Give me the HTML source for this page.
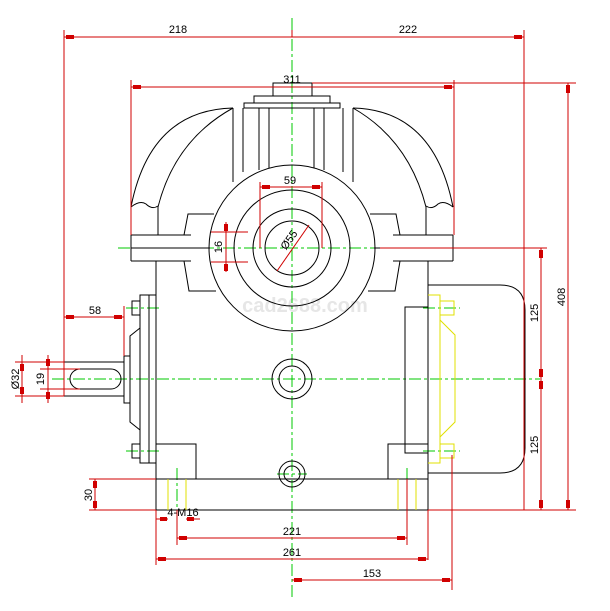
<!DOCTYPE html>
<html><head><meta charset="utf-8"><style>html,body{margin:0;padding:0;background:#fff}svg{display:block}</style></head>
<body>
<svg width="610" height="611" viewBox="0 0 610 611" xmlns="http://www.w3.org/2000/svg" font-family="Liberation Sans, sans-serif">
<rect width="610" height="611" fill="#fff"/>
<text x="305" y="312" font-size="20" font-weight="bold" fill="#e6e6e6" text-anchor="middle">cad2688.com</text>
<!-- green center lines -->
<g stroke="#00c800" stroke-width="1" stroke-dasharray="12,3,3,3" fill="none">
<line x1="292" y1="18" x2="292" y2="598"/>
<line x1="118" y1="248" x2="476" y2="248"/>
<line x1="52" y1="379" x2="540" y2="379"/>
<line x1="126" y1="308" x2="162" y2="308"/><line x1="126" y1="451" x2="162" y2="451"/>
<line x1="423" y1="308" x2="460" y2="308"/><line x1="423" y1="451" x2="460" y2="451"/>
<line x1="277" y1="474" x2="307" y2="474"/>
<line x1="177" y1="468" x2="177" y2="520"/><line x1="407" y1="468" x2="407" y2="520"/>
</g>
<!-- black geometry -->
<g stroke="#000" stroke-width="1" fill="none">
<rect x="273" y="83" width="39" height="13"/>
<rect x="254" y="96" width="76" height="7"/>
<rect x="244" y="103" width="96" height="5"/>
<path d="M233 108V182M243 108V172M259 108V170M269 108V168M314 108V168M324 108V170M343 108V172M353 108V182"/>
<path d="M131 207 Q150 110 233 108 M158 207 Q175 140 233 108"/>
<path d="M453 207 Q434 110 353 108 M426 207 Q409 140 353 108"/>
<path d="M131 207 Q140 200 146 204 Q152 210 158 206 M453 207 Q444 200 438 204 Q432 210 426 206"/>
<path d="M158 207V235M426 207V235"/>
<path d="M131 235H191M131 261H191M131 235V261M131 248H210"/>
<path d="M453 235H393M453 261H393M453 235V261M453 248H374"/>
<path d="M214 214H188L184 235M184 261L189 291H216"/>
<path d="M370 214H396L400 235M400 261L395 291H368"/>
<circle cx="292" cy="248" r="83"/>
<circle cx="292" cy="248" r="58"/>
<circle cx="292" cy="248" r="39"/>
<circle cx="292" cy="248" r="27"/>
<path d="M156 261V510H428V261"/>
<path d="M156 479H428"/>
<path d="M156 444H196V479M428 444H388V479"/>
<rect x="405" y="307" width="23" height="146"/>
<circle cx="292" cy="379" r="20"/><circle cx="292" cy="379" r="13"/>
<circle cx="292" cy="474" r="13"/><circle cx="292" cy="474" r="8"/>
<rect x="140" y="295" width="16" height="168"/>
<line x1="149" y1="295" x2="149" y2="463"/>
<rect x="132" y="301" width="8" height="14"/><rect x="132" y="444" width="8" height="14"/>
<path d="M140 328L130 336V422L140 430"/>
<rect x="124" y="356" width="6" height="47"/>
<rect x="64" y="362" width="60" height="34"/>
<path d="M80 369H111A10 10 0 0 1 111 389H80A10 10 0 0 1 80 369Z"/>
<path d="M428 285H500Q525 285 525 310V448Q525 473 500 473H428"/>
</g>
<!-- yellow -->
<g stroke="#e0e000" stroke-width="1" fill="none">
<path d="M428 295H440V463H428M440 295V463M440 320L455 335V422L440 437"/>
<rect x="440" y="301" width="14" height="14"/><rect x="440" y="444" width="14" height="14"/>
<path d="M168 479V510M186 479V510M398 479V510M416 479V510"/>
</g>
<!-- red dims -->
<g stroke="#d00000" stroke-width="1" fill="none">
<path d="M64 30V396M524 30V510M292 30V37M64 37H524"/>
<path d="M131 80V235M454 80V235M131 87H454"/>
<path d="M312 83H576M568 83V510M428 510H576"/>
<path d="M380 248H547M541 248V510"/>
<path d="M260 182V248M322 182V248M260 187H322"/>
<path d="M211 232H248M211 262H248M226 222V272"/>
<path d="M277 271L309 225"/>
<path d="M64 317H124M124 306V356"/>
<path d="M15 362H64M15 396H64M22 355V403M40 369H80M40 389H80M48 355V403"/>
<path d="M89 479H156M89 510H156M95 479V510"/>
<path d="M156 510V565M428 510V560M177 510V545M407 479V545M452 455V590"/>
<path d="M156 559H428M177 538H407M292 580H452"/>
<path d="M156 519H168M186 519H200"/>
</g>
<g fill="#d00000">
<rect x="66" y="35" width="8" height="4"/><rect x="514" y="35" width="8" height="4"/>
<rect x="133" y="85" width="8" height="4"/><rect x="444" y="85" width="8" height="4"/>
<rect x="262" y="185" width="8" height="4"/><rect x="312" y="185" width="8" height="4"/>
<rect x="224" y="224" width="4" height="7"/><rect x="224" y="264" width="4" height="7"/>
<rect x="566" y="85" width="4" height="8"/><rect x="566" y="500" width="4" height="8"/>
<rect x="539" y="250" width="4" height="8"/><rect x="539" y="369" width="4" height="8"/>
<rect x="539" y="381" width="4" height="8"/><rect x="539" y="500" width="4" height="8"/>
<rect x="66" y="315" width="8" height="4"/><rect x="114" y="315" width="8" height="4"/>
<rect x="20" y="364" width="4" height="7"/><rect x="20" y="387" width="4" height="7"/>
<rect x="46" y="359" width="4" height="7"/><rect x="46" y="392" width="4" height="7"/>
<rect x="93" y="481" width="4" height="7"/><rect x="93" y="501" width="4" height="7"/>
<rect x="158" y="557" width="8" height="4"/><rect x="418" y="557" width="8" height="4"/>
<rect x="179" y="536" width="8" height="4"/><rect x="397" y="536" width="8" height="4"/>
<rect x="294" y="578" width="8" height="4"/><rect x="442" y="578" width="8" height="4"/>
<rect x="160" y="517" width="7" height="4"/><rect x="187" y="517" width="7" height="4"/>
</g>
<g font-size="11" fill="#000">
<text x="178" y="33" text-anchor="middle">218</text>
<text x="408" y="33" text-anchor="middle">222</text>
<text x="292" y="83" text-anchor="middle">311</text>
<text x="290" y="184" text-anchor="middle">59</text>
<text x="95" y="314" text-anchor="middle">58</text>
<text x="292" y="535" text-anchor="middle">221</text>
<text x="292" y="556" text-anchor="middle">261</text>
<text x="372" y="577" text-anchor="middle">153</text>
<text x="183" y="516" text-anchor="middle">4-M16</text>
<text transform="translate(222,247) rotate(-90)" text-anchor="middle">16</text>
<text transform="translate(292,242) rotate(-55)" text-anchor="middle">Ø55</text>
<text transform="translate(19,379) rotate(-90)" text-anchor="middle">Ø32</text>
<text transform="translate(44,379) rotate(-90)" text-anchor="middle">19</text>
<text transform="translate(92,495) rotate(-90)" text-anchor="middle">30</text>
<text transform="translate(538,313) rotate(-90)" text-anchor="middle">125</text>
<text transform="translate(538,445) rotate(-90)" text-anchor="middle">125</text>
<text transform="translate(565,297) rotate(-90)" text-anchor="middle">408</text>
</g>
</svg>
</body></html>
